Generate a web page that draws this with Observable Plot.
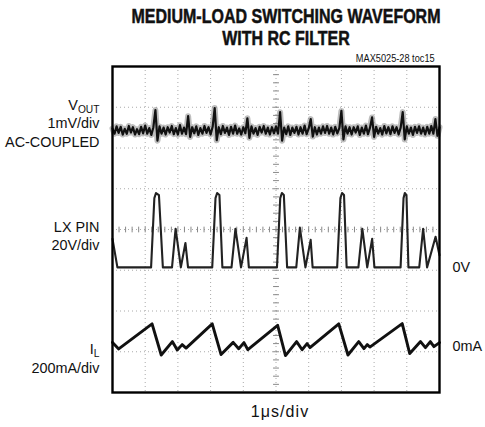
<!DOCTYPE html>
<html><head><meta charset="utf-8">
<script src="https://cdn.jsdelivr.net/npm/d3@7"></script>
<script src="https://cdn.jsdelivr.net/npm/@observablehq/plot@0.6"></script>
<style>
body{margin:0;background:#fff;}
#wrap{position:relative;width:485px;height:427px;font-family:"Liberation Sans",Arial,sans-serif;color:#111;}
#wrap svg{position:absolute;left:0;top:0;}
.t{position:absolute;white-space:nowrap;}
#title{left:0;width:572px;top:5px;text-align:center;font-weight:bold;font-size:20px;line-height:22px;transform:scaleX(0.80);transform-origin:286px 0;-webkit-text-stroke:0.5px #111;}
#code{right:50px;top:54px;font-size:10px;line-height:10px;transform:scaleX(0.92);transform-origin:100% 0;}
#xlab{left:0;width:560px;top:404px;text-align:center;font-size:16px;line-height:16px;letter-spacing:1.1px;}
</style></head>
<body>
<div id="wrap">
  <div class="t" id="title">MEDIUM-LOAD SWITCHING WAVEFORM<br>WITH RC FILTER</div>
  <div class="t" id="code">MAX5025-28 toc15</div>
  <div class="t" id="xlab">1μs/div</div>
</div>
<script>
// ---- data ----
// LX pin waveform: time (µs) and voltage (V), 0 V reference
const lxTime  = [0.00,0.15,1.18,1.28,1.33,1.42,1.54,1.82,1.93,2.09,2.23,2.31,
                 3.05,3.15,3.20,3.27,3.36,3.64,3.76,3.93,4.10,4.17,
                 5.03,5.13,5.18,5.24,5.34,5.62,5.73,5.90,6.06,6.12,
                 6.87,6.97,7.02,7.08,7.16,7.52,7.64,7.79,7.94,8.01,
                 8.81,8.90,8.94,8.99,9.05,9.38,9.50,9.62,9.88,10.00];
const lxVolts = [14,0,0,34,36.5,35.5,0,0,19,0,12,0,
                 0,34,36.5,35.5,0,0,19,0,14.5,0,
                 0,34,36.5,35.5,0,0,19.5,0,13.5,0,
                 0,34,36.5,35.5,0,0,19,0,14,0,
                 0,34,36.5,35.5,0,0,19,0,15,6];
// Inductor current: time (µs) and current (mA), 0 mA reference
const ilTime = [0.00,0.19,1.21,1.49,1.83,1.98,2.13,2.25,
                3.05,3.32,3.69,3.86,4.02,4.14,
                5.05,5.29,5.63,5.80,5.95,6.04,
                6.92,7.20,7.53,7.69,7.79,7.87,
                8.86,9.09,9.42,9.57,9.72,9.83,10.00];
const ilMilliamps = [16,-16,107,-46,20,-21,5,-12,
                     107,-44,16,-15,15,-20,
                     100,-49,20,-20,10,-10,
                     107,-46,20,-15,5,-7,
                     108,-39,20,-10,20,-5,15];
// Output ripple (AC-coupled), mV, sampled every 0.0625 µs
const voutSampleStep = 0.0625;
const voutMillivolts = [
 0.05,-0.08,0.10,-0.06,0.09,-0.10,0.04,-0.08,0.11,-0.05,
 0.08,-0.10,0.03,-0.09,0.09,-0.07,0.12,-0.08,0.06,-0.11,
 0.08,0.50,-0.25,0.10,-0.08,0.07,-0.10,0.08,-0.05,0.11,
 -0.09,0.06,-0.10,0.13,-0.08,0.07,-0.09,0.35,-0.16,0.08,
 -0.07,0.10,-0.11,0.06,-0.08,0.11,-0.06,0.08,-0.10,0.09,
 0.55,-0.24,0.08,-0.09,0.11,-0.06,0.07,-0.11,0.09,-0.08,
 0.12,-0.08,0.05,-0.10,0.08,-0.07,0.30,-0.18,0.10,-0.08,
 0.06,-0.11,0.09,-0.05,0.11,-0.08,0.07,-0.10,0.08,-0.07,
 0.10,-0.08,0.45,-0.25,0.07,-0.09,0.10,-0.11,0.07,-0.06,
 0.09,-0.10,0.08,-0.08,0.12,-0.09,0.05,0.28,-0.15,0.08,
 -0.10,0.07,-0.08,0.10,-0.06,0.11,-0.08,0.07,-0.10,0.09,
 -0.07,0.06,0.48,-0.22,0.10,-0.08,0.08,-0.10,0.08,-0.05,
 0.10,-0.11,0.07,-0.08,0.12,-0.09,0.07,0.32,-0.16,0.09,
 -0.08,0.06,-0.10,0.11,-0.07,0.08,-0.09,0.10,-0.06,0.08,
 -0.10,0.07,0.45,-0.22,0.10,-0.08,0.07,-0.11,0.09,-0.06,
 0.10,-0.08,0.07,-0.10,0.09,-0.08,0.11,-0.08,0.28,-0.13,
 0.08];
// Scope settings: scale per division and reference level (divisions from bottom)
const voutScale = {perDiv: 1,   zero: 6.43};
const lxScale   = {perDiv: 20,  zero: 3.07};
const ilScale   = {perDiv: 200, zero: 1.15};
const leftLabels  = ["VOUT\n1mV/div\nAC-COUPLED", "LX PIN\n20V/div", "IL\n200mA/div"];
const leftLabelLevels = [6.63, 3.86, 0.86];
const rightLabels = ["0V", "0mA"];
const xDivisions = d3.range(0, 11);   // 1 µs/div
const yDivisions = d3.range(0, 9);

// ---- tables ----
const lx = lxTime.map((t,i)=>({t, v: lxScale.zero + lxVolts[i]/lxScale.perDiv}));
const il = ilTime.map((t,i)=>({t, v: ilScale.zero + ilMilliamps[i]/ilScale.perDiv}));
const vout = voutMillivolts.map((m,i)=>({t: i*voutSampleStep, v: voutScale.zero + m/voutScale.perDiv}));
const left = leftLabels.map((text,i)=>({text, y: leftLabelLevels[i]}));
const right = [{text: rightLabels[0], y: lxScale.zero}, {text: rightLabels[1], y: ilScale.zero}];
const minorX = d3.range(0, 50.5).map(i=>i*0.2);
const minorY = d3.range(0, 40.5).map(i=>i*0.2);

const chart = Plot.plot({
  width: 485, height: 427,
  marginLeft: 112, marginRight: 46, marginTop: 66, marginBottom: 35,
  x: {domain: [0, 10], axis: null},
  y: {domain: [0, 8], axis: null},
  style: {fontFamily: "'Liberation Sans',Arial,sans-serif", fontSize: "15.5px", background: "transparent", color: "#111"},
  marks: [
    Plot.ruleX(xDivisions.slice(1,-1), {stroke: "#aaa", strokeDasharray: "1,3", strokeWidth: 1}),
    Plot.ruleY(yDivisions.slice(1,-1), {stroke: "#aaa", strokeDasharray: "1,3", strokeWidth: 1}),
    Plot.link(minorX, {x1: d=>d, x2: d=>d, y1: 3.93, y2: 4.07, stroke: "#888", strokeWidth: 1}),
    Plot.link(minorY, {y1: d=>d, y2: d=>d, x1: 4.91, x2: 5.09, stroke: "#888", strokeWidth: 1}),
    Plot.line(vout, {x: "t", y: "v", stroke: "#888", strokeOpacity: 0.55, strokeWidth: 6}),
    Plot.line(vout, {x: "t", y: "v", stroke: "#111", strokeWidth: 2.2}),
    Plot.line(lx, {x: "t", y: "v", stroke: "#222", strokeWidth: 2.1}),
    Plot.line(il, {x: "t", y: "v", stroke: "#111", strokeWidth: 2.9, strokeLinejoin: "round"}),
    Plot.frame({stroke: "#000", strokeWidth: 2.4}),
    Plot.text(left, {x: 0, y: "y", text: "text", textAnchor: "end", dx: -13, lineHeight: 1.2, lineAnchor: "middle", fill: "#111", className: "lbl"}),
    Plot.text(right, {x: 10, y: "y", text: "text", textAnchor: "start", dx: 13, fill: "#111", className: "lbl"})
  ]
});
document.getElementById("wrap").prepend(chart);
// condense label text horizontally around its anchor point
d3.select(chart).selectAll(".lbl text").each(function(){
  const tr = this.getAttribute("transform");
  if (tr) this.setAttribute("transform", tr + " scale(0.93,1)");
});
// subscripts
d3.select(chart).selectAll("tspan, text").each(function(){
  if (this.childElementCount) return;
  const s = this.textContent;
  if (s === "VOUT") this.innerHTML = 'V<tspan font-size="11" baseline-shift="-3">OUT</tspan>';
  if (s === "IL") this.innerHTML = 'I<tspan font-size="11" baseline-shift="-3">L</tspan>';
});
</script>
</body></html>
